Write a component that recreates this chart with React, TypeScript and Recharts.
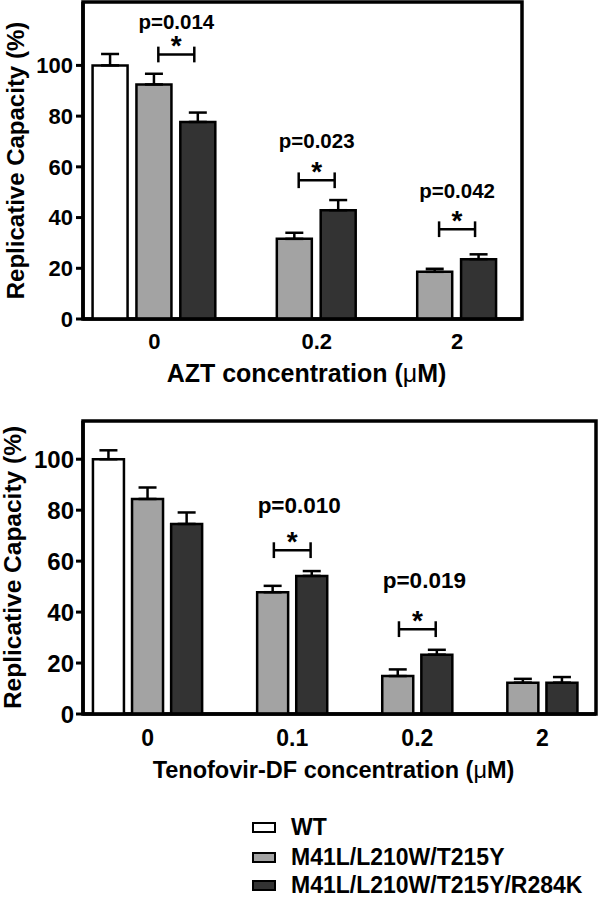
import React from 'react';
import {
  BarChart,
  Bar,
  XAxis,
  YAxis,
  Cell,
  ErrorBar,
  ReferenceLine,
  ReferenceDot,
  ReferenceArea,
} from 'recharts';

const FONT = '"Liberation Sans", Arial, Helvetica, sans-serif';

const seriesNames = ['WT', 'M41L/L210W/T215Y', 'M41L/L210W/T215Y/R284K'];
const seriesColors = ['#ffffff', '#a3a3a3', '#333333'];

// ---- AZT panel ----
const aztCategories = ['0', '0.2', '2'];
const aztWT = [100, null, null];
const aztWTErr = [4.5, null, null];
const aztM = [92.5, 31.6, 18.6];
const aztMErr = [4.2, 2.4, 1.2];
const aztMR = [77.7, 42.9, 23.6];
const aztMRErr = [3.7, 4.0, 1.9];
const aztPValues = ['p=0.014', 'p=0.023', 'p=0.042'];
const aztBracketLevels = [104.3, 54.7, 35.4];
const aztPLevels = [117.3, 70.5, 50.8];
const aztYTicks = [0, 20, 40, 60, 80, 100];

// ---- Tenofovir-DF panel ----
const tdfCategories = ['0', '0.1', '0.2', '2'];
const tdfWT = [100, null, null, null];
const tdfWTErr = [3.5, null, null, null];
const tdfM = [84.4, 47.8, 14.9, 12.3];
const tdfMErr = [4.5, 2.5, 2.6, 1.5];
const tdfMR = [74.6, 54.2, 23.3, 12.3];
const tdfMRErr = [4.5, 1.9, 1.9, 2.2];
const tdfPValues = [null, 'p=0.010', 'p=0.019', null];
const tdfBracketLevels = [null, 64.3, 33.3, null];
const tdfPLevels = [null, 82.2, 52.5, null];
const tdfYTicks = [0, 20, 40, 60, 80, 100];

const GROUP_GAP = 1.2; // extra slot spacing between concentration groups

type Row = { pos: number; value: number; err: [number, number]; series: number };

function buildRows(values: (number | null)[][], errs: (number | null)[][]) {
  const rows: Row[] = [];
  const groupCenters: number[] = [];
  const groupBars: Record<number, number>[] = [];
  let pos = 0;
  const nGroups = values[0].length;
  for (let g = 0; g < nGroups; g++) {
    if (g > 0) pos += GROUP_GAP;
    const start = pos;
    const positions: Record<number, number> = {};
    for (let s = 0; s < values.length; s++) {
      const v = values[s][g];
      if (v == null) continue;
      rows.push({ pos, value: v, err: [0, (errs[s][g] as number) || 0], series: s });
      positions[s] = pos;
      pos += 1;
    }
    groupCenters.push((start + pos - 1) / 2);
    groupBars.push(positions);
  }
  return { rows, groupCenters, groupBars };
}

type PanelProps = {
  categories: string[];
  values: (number | null)[][];
  errs: (number | null)[][];
  pValues: (string | null)[];
  bracketLevels: (number | null)[];
  pLevels: (number | null)[];
  yTicks: number[];
  yMax: number;
  xDomain: [number, number];
  marginTop: number;
  marginRight: number;
  xAxisHeight: number;
  barSize: number;
  yTickFont: number;
  xTickFont: number;
  xTickMargin: number;
  yTickMargin: number;
  pFont: number;
  pDx: number;
  xTitle: string;
  xTitleFont: number;
  xTitleOffset: number;
  xTitleDx: number;
  yTitleFont: number;
  yTitleX: number;
  bracketHalf: number;
  bracketTick: number;
};

function Panel(p: PanelProps) {
  const { rows, groupCenters, groupBars } = buildRows(p.values, p.errs);

  const yTitle = (props: any) => {
    const vb = props.viewBox || {};
    const cy = vb.y + vb.height / 2;
    const bx = p.yTitleX;
    return (
      <text
        x={bx}
        y={cy}
        transform={`rotate(-90 ${bx} ${cy})`}
        textAnchor="middle"
        fontSize={p.yTitleFont}
        fontWeight="bold"
        fontFamily={FONT}
        fill="#000"
      >
        Replicative Capacity (%)
      </text>
    );
  };

  const xTitle = (props: any) => {
    const vb = props.viewBox || {};
    return (
      <text
        x={vb.x + vb.width / 2 + p.xTitleDx}
        y={vb.y + vb.height - p.xTitleOffset}
        textAnchor="middle"
        fontSize={p.xTitleFont}
        fontWeight="bold"
        fontFamily={FONT}
        fill="#000"
      >
        {p.xTitle + ' ('}
        <tspan fontWeight="normal">μ</tspan>
        {'M)'}
      </text>
    );
  };

  const textLabel = (txt: string, fs: number, shift: number, dx: number) => (props: any) => {
    const vb = props.viewBox || {};
    const cx = vb.x + (vb.width || 0) / 2;
    const cy = vb.y + (vb.height || 0) / 2;
    return (
      <text
        x={cx + dx}
        y={cy + shift}
        textAnchor="middle"
        fontSize={fs}
        fontWeight="bold"
        fontFamily={FONT}
        fill="#000"
      >
        {txt}
      </text>
    );
  };

  const annotations: React.ReactNode[] = [];
  p.categories.forEach((_, g) => {
    const lvl = p.bracketLevels[g];
    const pv = p.pValues[g];
    const pl = p.pLevels[g];
    const bars = groupBars[g];
    if (lvl == null || pv == null || pl == null) return;
    const c = (bars[1] + bars[2]) / 2;
    const x1 = c - p.bracketHalf;
    const x2 = c + p.bracketHalf;
    annotations.push(
      <ReferenceLine
        key={`bh${g}`}
        segment={[{ x: x1, y: lvl }, { x: x2, y: lvl }]}
        stroke="#000"
        strokeWidth={2.5}
      />,
      <ReferenceLine
        key={`bl${g}`}
        segment={[{ x: x1, y: lvl - p.bracketTick }, { x: x1, y: lvl + p.bracketTick }]}
        stroke="#000"
        strokeWidth={2.5}
      />,
      <ReferenceLine
        key={`br${g}`}
        segment={[{ x: x2, y: lvl - p.bracketTick }, { x: x2, y: lvl + p.bracketTick }]}
        stroke="#000"
        strokeWidth={2.5}
      />,
      <ReferenceDot
        key={`ast${g}`}
        x={c}
        y={lvl}
        r={1}
        fill="none"
        stroke="none"
        label={textLabel('*', 28, 1, 0)}
      />,
      <ReferenceDot
        key={`pv${g}`}
        x={c}
        y={pl}
        r={1}
        fill="none"
        stroke="none"
        label={textLabel(pv, p.pFont, p.pFont * 0.358, p.pDx)}
      />
    );
  });

  return (
    <BarChart
      width={600}
      height={400}
      data={rows}
      margin={{ top: p.marginTop, right: p.marginRight, left: 0, bottom: 0 }}
    >
      <XAxis
        dataKey="pos"
        type="number"
        domain={p.xDomain}
        ticks={groupCenters}
        interval={0}
        tickFormatter={(_v: number, i: number) => p.categories[i]}
        height={p.xAxisHeight}
        tickLine={false}
        tickSize={0}
        tickMargin={p.xTickMargin}
        axisLine={{ stroke: '#000', strokeWidth: 3.5 }}
        tick={{ fill: '#000', fontSize: p.xTickFont, fontWeight: 'bold', fontFamily: FONT }}
        allowDataOverflow
        label={xTitle}
      />
      <YAxis
        type="number"
        domain={[0, p.yMax]}
        ticks={p.yTicks}
        interval={0}
        width={83}
        tickSize={7}
        tickMargin={p.yTickMargin}
        axisLine={{ stroke: '#000', strokeWidth: 3.5 }}
        tickLine={{ stroke: '#000', strokeWidth: 3 }}
        tick={{ fill: '#000', fontSize: p.yTickFont, fontWeight: 'bold', fontFamily: FONT }}
        allowDataOverflow
        label={yTitle}
      />
      <ReferenceArea
        x1={p.xDomain[0]}
        x2={p.xDomain[1]}
        y1={0}
        y2={p.yMax}
        fill="none"
        fillOpacity={0}
        stroke="#000"
        strokeWidth={3.5}
        strokeOpacity={1}
      />
      <Bar dataKey="value" barSize={p.barSize} stroke="#000" strokeWidth={2.5} isAnimationActive={false}>
        {rows.map((r, i) => (
          <Cell key={i} fill={seriesColors[r.series]} />
        ))}
        <ErrorBar dataKey="err" direction="y" width={9} stroke="#000" strokeWidth={2.5} />
      </Bar>
      {annotations}
    </BarChart>
  );
}

function Legend() {
  const rowCenters = [827, 857, 885];
  return (
    <>
      {seriesNames.map((name, i) => (
        <div
          key={name}
          style={{
            position: 'absolute',
            left: 252,
            top: rowCenters[i] - 14,
            height: 28,
            display: 'flex',
            alignItems: 'center',
            fontFamily: FONT,
            fontWeight: 'bold',
            fontSize: 23,
            color: '#000',
            whiteSpace: 'nowrap',
          }}
        >
          <div
            style={{
              width: 20,
              height: 7,
              border: '2.5px solid #000',
              background: seriesColors[i],
              marginRight: 15,
            }}
          />
          <span>{name}</span>
        </div>
      ))}
    </>
  );
}

export default function App() {
  return (
    <div style={{ position: 'absolute', left: 0, top: 0, width: 600, height: 897, background: '#fff' }}>
      <div style={{ position: 'absolute', left: 0, top: 0 }}>
        <Panel
          categories={aztCategories}
          values={[aztWT, aztM, aztMR]}
          errs={[aztWTErr, aztMErr, aztMRErr]}
          pValues={aztPValues}
          bracketLevels={aztBracketLevels}
          pLevels={aztPLevels}
          yTicks={aztYTicks}
          yMax={125}
          xDomain={[-0.627, 9.38]}
          marginTop={2}
          marginRight={78}
          xAxisHeight={81}
          barSize={35}
          yTickFont={22}
          xTickFont={22}
          xTickMargin={14}
          yTickMargin={3}
          pFont={20.5}
          pDx={0}
          xTitle="AZT concentration"
          xTitleFont={25}
          xTitleOffset={18}
          xTitleDx={4}
          yTitleFont={24}
          yTitleX={24}
          bracketHalf={0.41}
          bracketTick={3.1}
        />
      </div>
      <div style={{ position: 'absolute', left: 0, top: 400 }}>
        <Panel
          categories={tdfCategories}
          values={[tdfWT, tdfM, tdfMR]}
          errs={[tdfWTErr, tdfMErr, tdfMRErr]}
          pValues={tdfPValues}
          bracketLevels={tdfBracketLevels}
          pLevels={tdfPLevels}
          yTicks={tdfYTicks}
          yMax={115}
          xDomain={[-0.652, 12.47]}
          marginTop={21}
          marginRight={4}
          xAxisHeight={86}
          barSize={31}
          yTickFont={24}
          xTickFont={23}
          xTickMargin={16}
          yTickMargin={2}
          pFont={22.5}
          pDx={7}
          xTitle="Tenofovir-DF concentration"
          xTitleFont={23.5}
          xTitleOffset={22}
          xTitleDx={-6}
          yTitleFont={24.5}
          yTitleX={21}
          bracketHalf={0.47}
          bracketTick={3.1}
        />
      </div>
      <Legend />
    </div>
  );
}
